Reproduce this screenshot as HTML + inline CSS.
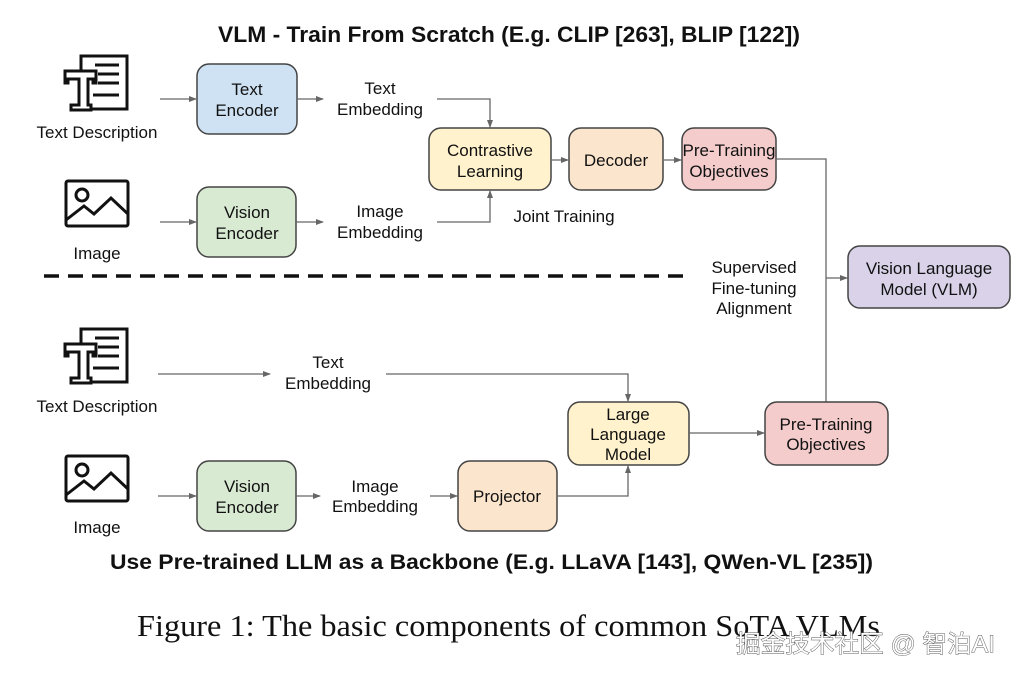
<!DOCTYPE html>
<html><head><meta charset="utf-8"><style>
html,body{margin:0;padding:0;background:#fff;}
svg{display:block;}
text{font-family:"Liberation Sans",Arial,sans-serif;fill:#111;}
.l{font-size:17px;text-anchor:middle;}
.b{fill-opacity:1;stroke:#444;stroke-width:1.5;}
.c{stroke:#666;stroke-width:1.3;fill:none;}
</style></head><body>
<svg width="1016" height="677" viewBox="0 0 1016 677" xmlns="http://www.w3.org/2000/svg">
<defs>
<marker id="a" markerWidth="8" markerHeight="8" refX="7" refY="4" orient="auto" markerUnits="userSpaceOnUse">
<path d="M0,1 L8,4 L0,7 z" fill="#666"/></marker>
<g id="ti" fill="none" stroke="#111" stroke-width="3">
<rect x="16" y="1" width="46" height="53"/>
<path d="M0,16 H31 V28 H28 V24 H23 V50 H26 V55 H6 V50 H14 V24 H3 V28 H0 Z" fill="#fff"/>
<line x1="30" y1="10" x2="54" y2="10"/><line x1="33" y1="19" x2="54" y2="19"/><line x1="33" y1="28" x2="54" y2="28"/><line x1="28" y1="40" x2="54" y2="40"/>
</g>
<g id="ii" fill="none" stroke="#111" stroke-width="3">
<rect x="1" y="1" width="62" height="45" rx="2"/>
<circle cx="17" cy="15" r="6"/>
<polyline points="1,40 19,26 29,34 46,18 63,34"/>
</g>
</defs>

<text x="218" y="42" textLength="582" lengthAdjust="spacingAndGlyphs" style="font-size:22.5px;font-weight:bold">VLM - Train From Scratch (E.g. CLIP [263], BLIP [122])</text>

<use href="#ti" x="65" y="55"/>
<text class="l" x="97" y="138">Text Description</text>
<use href="#ii" x="65" y="180"/>
<text class="l" x="97" y="259">Image</text>

<rect class="b" x="197" y="64" width="100" height="70" rx="12" fill="#cfe2f3"/>
<text class="l" x="247" y="95">Text</text><text class="l" x="247" y="116">Encoder</text>
<rect class="b" x="197" y="187" width="99" height="70" rx="12" fill="#d9ead3"/>
<text class="l" x="247" y="218">Vision</text><text class="l" x="247" y="239">Encoder</text>

<line class="c" x1="160" y1="99" x2="196" y2="99" marker-end="url(#a)"/>
<line class="c" x1="297" y1="99" x2="323" y2="99" marker-end="url(#a)"/>
<line class="c" x1="160" y1="222" x2="196" y2="222" marker-end="url(#a)"/>
<line class="c" x1="296" y1="222" x2="323" y2="222" marker-end="url(#a)"/>

<text class="l" x="380" y="94">Text</text><text class="l" x="380" y="115">Embedding</text>
<text class="l" x="380" y="217">Image</text><text class="l" x="380" y="238">Embedding</text>

<path class="c" d="M437,99 H490 V127" marker-end="url(#a)"/>
<path class="c" d="M437,222 H490 V191" marker-end="url(#a)"/>

<rect class="b" x="429" y="128" width="122" height="62" rx="12" fill="#fff2cc"/>
<text class="l" x="490" y="156">Contrastive</text><text class="l" x="490" y="177">Learning</text>
<line class="c" x1="551" y1="160" x2="568" y2="160" marker-end="url(#a)"/>
<rect class="b" x="569" y="128" width="94" height="62" rx="12" fill="#fce5cd"/>
<text class="l" x="616" y="166">Decoder</text>
<line class="c" x1="663" y1="160" x2="681" y2="160" marker-end="url(#a)"/>
<rect class="b" x="682" y="128" width="94" height="62" rx="12" fill="#f4cccc"/>
<text class="l" x="729" y="156">Pre-Training</text><text class="l" x="729" y="177">Objectives</text>
<text class="l" x="564" y="222">Joint Training</text>

<path class="c" d="M776,159 H826 V402"/>
<line class="c" x1="826" y1="278" x2="847" y2="278" marker-end="url(#a)"/>
<rect class="b" x="848" y="246" width="162" height="62" rx="12" fill="#d9d2e9"/>
<text class="l" x="929" y="274">Vision Language</text><text class="l" x="929" y="295">Model (VLM)</text>
<text class="l" x="754" y="273">Supervised</text><text class="l" x="754" y="294">Fine-tuning</text><text class="l" x="754" y="314">Alignment</text>

<line x1="44" y1="276" x2="692" y2="276" stroke="#111" stroke-width="3.5" stroke-dasharray="15,9"/>

<use href="#ti" x="65" y="328"/>
<text class="l" x="97" y="412">Text Description</text>
<use href="#ii" x="65" y="455"/>
<text class="l" x="97" y="533">Image</text>

<line class="c" x1="158" y1="374" x2="270" y2="374" marker-end="url(#a)"/>
<text class="l" x="328" y="368">Text</text><text class="l" x="328" y="389">Embedding</text>
<path class="c" d="M386,374 H628 V401" marker-end="url(#a)"/>

<rect class="b" x="568" y="402" width="121" height="63" rx="12" fill="#fff2cc"/>
<text class="l" x="628" y="420">Large</text><text class="l" x="628" y="440">Language</text><text class="l" x="628" y="460">Model</text>
<line class="c" x1="689" y1="433" x2="764" y2="433" marker-end="url(#a)"/>
<rect class="b" x="765" y="402" width="123" height="63" rx="12" fill="#f4cccc"/>
<text class="l" x="826" y="430">Pre-Training</text><text class="l" x="826" y="450">Objectives</text>

<line class="c" x1="158" y1="496" x2="196" y2="496" marker-end="url(#a)"/>
<rect class="b" x="197" y="461" width="99" height="70" rx="12" fill="#d9ead3"/>
<text class="l" x="247" y="492">Vision</text><text class="l" x="247" y="513">Encoder</text>
<line class="c" x1="296" y1="496" x2="320" y2="496" marker-end="url(#a)"/>
<text class="l" x="375" y="492">Image</text><text class="l" x="375" y="512">Embedding</text>
<line class="c" x1="430" y1="496" x2="457" y2="496" marker-end="url(#a)"/>
<rect class="b" x="458" y="461" width="99" height="70" rx="12" fill="#fce5cd"/>
<text class="l" x="507" y="502">Projector</text>
<path class="c" d="M557,496 H628 V466" marker-end="url(#a)"/>

<text x="110" y="569" textLength="763" lengthAdjust="spacingAndGlyphs" style="font-size:21.5px;font-weight:bold">Use Pre-trained LLM as a Backbone (E.g. LLaVA [143], QWen-VL [235])</text>

<text x="137" y="636" textLength="743" lengthAdjust="spacingAndGlyphs" style="font-family:'Liberation Serif',serif;font-size:31px;">Figure 1: The basic components of common SoTA VLMs</text>
<text x="736" y="652" textLength="259" lengthAdjust="spacingAndGlyphs" style="font-family:'Liberation Sans','Noto Sans CJK SC',sans-serif;font-size:24px;fill:#fff;stroke:#555;stroke-width:0.9;paint-order:stroke;">掘金技术社区 @ 智泊AI</text>
</svg>
</body></html>
